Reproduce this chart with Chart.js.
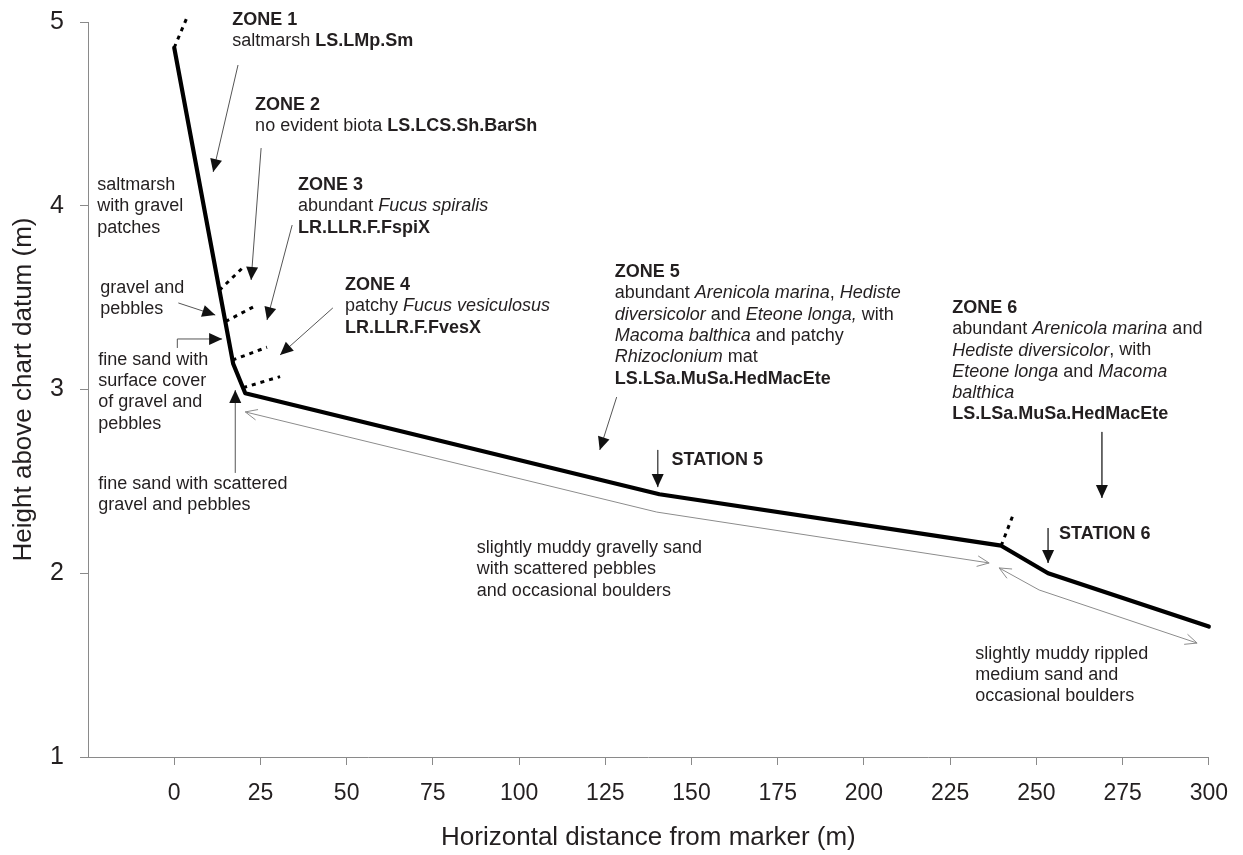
<!DOCTYPE html>
<html>
<head>
<meta charset="utf-8">
<script src="https://cdn.jsdelivr.net/npm/chart.js@4.4.1/dist/chart.umd.min.js"></script>
<style>
  html, body { margin: 0; padding: 0; background: #ffffff; }
  #wrap { width: 1243px; height: 855px; position: relative; }
  canvas { display: block; }
</style>
</head>
<body>
<div id="wrap"><canvas id="c" width="1243" height="855"></canvas></div>
<script>
// ---------- data (metres) ----------
const profileX = [0, 17.1, 20.6, 140.7, 239.8, 253.4, 300];
const profileY = [4.86, 3.14, 2.98, 2.43, 2.15, 2.00, 1.71];

// zone boundary dashed marks: [x0, y0, x1, y1]
const boundaryMarks = [
  [0, 4.86, 4.05, 5.04],
  [13.1, 3.54, 19.7, 3.66],
  [14.9, 3.37, 24.0, 3.46],
  [16.9, 3.16, 26.9, 3.23],
  [20.0, 3.01, 30.7, 3.07],
  [239.8, 2.15, 243.5, 2.33]
];

// sediment extent double arrows (polyline points)
const sedimentArrows = [
  [[20.6, 2.878], [139.9, 2.333], [236.3, 2.056]],
  [[239.2, 2.029], [250.8, 1.909], [296.6, 1.620]]
];

// pointer arrows (polyline, last point = tip)
const pointerArrows = [
  [[18.5, 4.766], [11.3, 4.184]],
  [[25.2, 4.314], [22.3, 3.596]],
  [[34.2, 3.895], [26.9, 3.378]],
  [[46.0, 3.444], [30.7, 3.188]],
  [[1.2, 3.471], [11.9, 3.405]],
  [[0.9, 3.226], [0.9, 3.275], [13.9, 3.275]],
  [[17.7, 2.546], [17.7, 2.997]],
  [[128.3, 2.959], [123.4, 2.671]],
  [[140.2, 2.671], [140.2, 2.469]],
  [[269.0, 2.769], [269.0, 2.410]],
  [[253.4, 2.246], [253.4, 2.056]]
];

const xTickValues = [0, 25, 50, 75, 100, 125, 150, 175, 200, 225, 250, 275, 300];
const yTickValues = [1, 2, 3, 4, 5];

// annotation texts: each line = list of [text, style] (n normal, b bold, i italic)
const labelTexts = [
  [[["ZONE 1","b"]], [["saltmarsh ","n"],["LS.LMp.Sm","b"]]],
  [[["ZONE 2","b"]], [["no evident biota ","n"],["LS.LCS.Sh.BarSh","b"]]],
  [[["ZONE 3","b"]], [["abundant ","n"],["Fucus spiralis","i"]], [["LR.LLR.F.FspiX","b"]]],
  [[["ZONE 4","b"]], [["patchy ","n"],["Fucus vesiculosus","i"]], [["LR.LLR.F.FvesX","b"]]],
  [[["ZONE 5","b"]], [["abundant ","n"],["Arenicola marina","i"],[", ","n"],["Hediste","i"]],
   [["diversicolor","i"],[" and ","n"],["Eteone longa,","i"],[" with","n"]],
   [["Macoma balthica","i"],[" and patchy","n"]], [["Rhizoclonium","i"],[" mat","n"]],
   [["LS.LSa.MuSa.HedMacEte","b"]]],
  [[["ZONE 6","b"]], [["abundant ","n"],["Arenicola marina","i"],[" and","n"]],
   [["Hediste diversicolor","i"],[", with","n"]], [["Eteone longa","i"],[" and ","n"],["Macoma","i"]],
   [["balthica","i"]], [["LS.LSa.MuSa.HedMacEte","b"]]],
  [[["STATION 5","b"]]],
  [[["STATION 6","b"]]],
  [[["saltmarsh","n"]], [["with gravel","n"]], [["patches","n"]]],
  [[["gravel and","n"]], [["pebbles","n"]]],
  [[["fine sand with","n"]], [["surface cover","n"]], [["of gravel and","n"]], [["pebbles","n"]]],
  [[["fine sand with scattered","n"]], [["gravel and pebbles","n"]]],
  [[["slightly muddy gravelly sand","n"]], [["with scattered pebbles","n"]], [["and occasional boulders","n"]]],
  [[["slightly muddy rippled","n"]], [["medium sand and","n"]], [["occasional boulders","n"]]]
];
// anchor (left edge, centre of first line) in data units
const labelX = [16.8, 23.46, 35.91, 49.52, 127.72, 225.6, 144.22, 256.59, -22.3, -21.43, -22.01, -22.01, 87.75, 232.26];
const labelY = [5.011, 4.548, 4.113, 3.569, 3.639, 3.444, 2.616, 2.214, 4.113, 3.552, 3.161, 2.486, 2.137, 1.561];

// ---------- build datasets ----------
function segmentsToData(segs) {
  const out = [];
  segs.forEach((s, i) => {
    if (i > 0) out.push({x: s[0][0], y: null});
    s.forEach(p => out.push({x: p[0], y: p[1]}));
  });
  return out;
}
const profileData = profileX.map((x, i) => ({x, y: profileY[i]}));
const boundaryData = segmentsToData(boundaryMarks.map(m => [[m[0], m[1]], [m[2], m[3]]]));
const sedimentData = segmentsToData(sedimentArrows);
const pointerData = segmentsToData(pointerArrows);

const FONT = "'Liberation Sans', Arial, Helvetica, sans-serif";
const TEXT_COLOR = '#231f20';
const AXIS_COLOR = '#8a8a8a';

const annotationPlugin = {
  id: 'annotations',
  afterDatasetsDraw(chart) {
    const ctx = chart.ctx;
    const xs = chart.scales.x, ys = chart.scales.y;
    const px = v => xs.getPixelForValue(v);
    const py = v => ys.getPixelForValue(v);
    ctx.save();
    // filled arrow heads
    ctx.fillStyle = '#111';
    pointerArrows.forEach(a => {
      const p2 = a[a.length - 1], p1 = a[a.length - 2];
      const x2 = px(p2[0]), y2 = py(p2[1]), x1 = px(p1[0]), y1 = py(p1[1]);
      const ang = Math.atan2(y2 - y1, x2 - x1);
      const L = 13, W = 6;
      ctx.beginPath();
      ctx.moveTo(x2, y2);
      ctx.lineTo(x2 - L * Math.cos(ang) + W * Math.sin(ang), y2 - L * Math.sin(ang) - W * Math.cos(ang));
      ctx.lineTo(x2 - L * Math.cos(ang) - W * Math.sin(ang), y2 - L * Math.sin(ang) + W * Math.cos(ang));
      ctx.closePath();
      ctx.fill();
    });
    // open arrow heads on sediment arrows
    ctx.strokeStyle = '#8c8c8c';
    ctx.lineWidth = 1;
    sedimentArrows.forEach(a => {
      const ends = [[a[0], a[1]], [a[a.length - 1], a[a.length - 2]]];
      ends.forEach(([tip, prev]) => {
        const x2 = px(tip[0]), y2 = py(tip[1]), x1 = px(prev[0]), y1 = py(prev[1]);
        const ang = Math.atan2(y2 - y1, x2 - x1);
        const L = 13, s = 0.42;
        ctx.beginPath();
        ctx.moveTo(x2 - L * Math.cos(ang - s), y2 - L * Math.sin(ang - s));
        ctx.lineTo(x2, y2);
        ctx.lineTo(x2 - L * Math.cos(ang + s), y2 - L * Math.sin(ang + s));
        ctx.stroke();
      });
    });
    // texts
    ctx.fillStyle = TEXT_COLOR;
    ctx.textBaseline = 'middle';
    ctx.textAlign = 'left';
    const fontFor = st => (st === 'b' ? 'bold ' : st === 'i' ? 'italic ' : '') + '18px ' + FONT;
    const LH = 21.3;
    labelTexts.forEach((lines, k) => {
      const x0 = px(labelX[k]);
      let y = py(labelY[k]);
      lines.forEach(line => {
        let x = x0;
        line.forEach(([t, st]) => {
          ctx.font = fontFor(st);
          ctx.fillText(t, x, y);
          x += ctx.measureText(t).width;
        });
        y += LH;
      });
    });
    ctx.restore();
  }
};

new Chart(document.getElementById('c'), {
  type: 'scatter',
  data: {
    datasets: [
      { label: 'profile', data: profileData, showLine: true, borderColor: '#000', borderWidth: 4.2,
        pointRadius: 0, tension: 0, borderJoinStyle: 'round', borderCapStyle: 'round', clip: false },
      { label: 'boundaries', data: boundaryData, showLine: true, borderColor: '#000', borderWidth: 3,
        borderDash: [4, 5], pointRadius: 0, spanGaps: false, clip: false },
      { label: 'sediment', data: sedimentData, showLine: true, borderColor: '#8c8c8c', borderWidth: 1,
        pointRadius: 0, spanGaps: false, clip: false },
      { label: 'pointers', data: pointerData, showLine: true, borderColor: '#555', borderWidth: 1,
        pointRadius: 0, spanGaps: false, clip: false }
    ]
  },
  options: {
    responsive: false,
    animation: false,
    devicePixelRatio: 1,
    layout: { padding: { top: 22, right: 33, left: 0, bottom: 0 } },
    plugins: { legend: { display: false }, tooltip: { enabled: false } },
    scales: {
      x: {
        type: 'linear', min: -25, max: 300,
        afterBuildTicks: s => { s.ticks = [{value: -25}].concat(xTickValues.map(v => ({value: v}))); },
        afterFit: s => { s.height = 98; },
        border: { display: true, color: AXIS_COLOR, width: 1 },
        grid: { drawOnChartArea: false, drawTicks: true, tickLength: 8,
                tickColor: c => (c.tick && c.tick.value === -25 ? 'rgba(0,0,0,0)' : AXIS_COLOR) },
        ticks: { autoSkip: false, maxRotation: 0, padding: 15, color: TEXT_COLOR,
                 font: { family: FONT, size: 23 },
                 callback: v => (v === -25 ? '' : String(v)) },
        title: { display: true, text: 'Horizontal distance from marker (m)', color: TEXT_COLOR,
                 font: { family: FONT, size: 26 }, padding: { top: 0, bottom: 2 } }
      },
      y: {
        type: 'linear', min: 1, max: 5,
        afterBuildTicks: s => { s.ticks = yTickValues.map(v => ({value: v})); },
        afterFit: s => { s.width = 88; s.paddingTop = 0; s.paddingBottom = 0; },
        border: { display: true, color: AXIS_COLOR, width: 1 },
        grid: { drawOnChartArea: false, drawTicks: true, tickLength: 8, tickColor: AXIS_COLOR },
        ticks: { padding: 16, color: TEXT_COLOR, font: { family: FONT, size: 25 } },
        title: { display: true, text: 'Height above chart datum (m)', color: TEXT_COLOR,
                 font: { family: FONT, size: 26 }, padding: { top: 8, bottom: 0 } }
      }
    }
  },
  plugins: [annotationPlugin]
});
</script>
</body>
</html>
